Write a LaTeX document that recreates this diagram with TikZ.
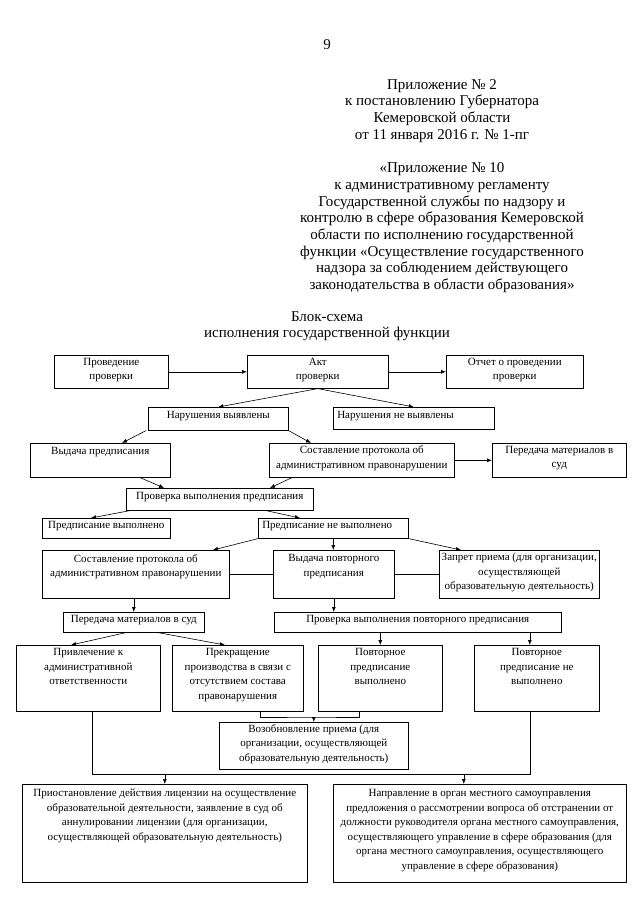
\documentclass[tikz,border=0pt]{standalone}
\usepackage{fontspec}
\setmainfont{Liberation Serif}
\usetikzlibrary{arrows.meta,calc}
\newcommand\boxc[4]{\parbox[c][#2pt][t]{#1pt}{\fontsize{11}{14.5}\selectfont\vspace*{#3pt}\centering #4\par}}
\newcommand\boxl[4]{\parbox[c][#2pt][t]{#1pt}{\fontsize{11}{14.5}\selectfont\vspace*{#3pt}\raggedright\hspace*{4pt}#4\par}}
\tikzset{
  bx/.style={draw, line width=0.6pt, inner sep=0pt, anchor=north west},
  arr/.style={-{Latex[length=5pt,width=4pt]}, line width=0.6pt},
  ln/.style={line width=0.6pt},
  hdr/.style={align=center, inner sep=0pt, font=\fontsize{15}{16.7}\selectfont}
}
\begin{document}
\begin{tikzpicture}[x=1pt,y=-1pt]
\fill[white] (0,0) rectangle (640,905);
\useasboundingbox (0,0) rectangle (640,905);

\node[hdr] (pg) at (327,45) {9};
\node[hdr, anchor=north] (head) at (442,79) {Приложение № 2\\к постановлению Губернатора\\Кемеровской области\\от 11 января 2016 г. № 1-пг\\[16.7pt]«Приложение № 10\\к административному регламенту\\Государственной службы по надзору и\\контролю в сфере образования Кемеровской\\области по исполнению государственной\\функции «Осуществление государственного\\надзора за соблюдением действующего\\законодательства в области образования»};
\node[hdr, anchor=north] (title) at (327,311) {Блок-схема\\исполнения государственной функции};

\node[bx] (prov) at (54,355) {\boxc{114}{33}{2.5}{Проведение\\проверки}};
\node[bx] (akt) at (247,355) {\boxc{141}{33}{2.5}{Акт\\проверки}};
\node[bx] (otchet) at (446,355) {\boxc{137}{33}{2.5}{Отчет о проведении\\проверки}};
\node[bx] (narv) at (148,407) {\boxc{140}{23}{4}{Нарушения выявлены}};
\node[bx] (narnv) at (333,407) {\boxl{161}{22}{4}{Нарушения не выявлены}};
\node[bx] (vyd) at (30,443) {\boxc{140}{34}{4}{Выдача предписания}};
\node[bx] (sost) at (269,443) {\boxc{185}{34}{2.5}{Составление протокола об\\административном правонарушении}};
\node[bx] (pered) at (492,443) {\boxc{134}{34}{2.5}{Передача материалов в\\суд}};
\node[bx] (prov2) at (126,488) {\boxc{187}{22}{4}{Проверка выполнения предписания}};
\node[bx] (pv) at (42,518) {\boxc{128}{20}{3}{Предписание выполнено}};
\node[bx] (pnv) at (258,518) {\boxl{150}{20}{3}{Предписание не выполнено}};
\node[bx] (sost2) at (42,550) {\boxc{187}{48}{4}{Составление протокола об\\административном правонарушении}};
\node[bx] (vyd2) at (273,550) {\boxc{121}{48}{4}{Выдача повторного\\предписания}};
\node[bx] (zap) at (439,550) {\boxc{160}{48}{3}{Запрет приема (для организации,\\осуществляющей\\образовательную деятельность)}};
\node[bx] (per2) at (63,612) {\boxc{141}{20}{3}{Передача материалов в суд}};
\node[bx] (prov3) at (274,612) {\boxc{287}{20}{3}{Проверка выполнения повторного предписания}};
\node[bx] (priv) at (16,645) {\boxc{144}{66}{3}{Привлечение к\\административной\\ответственности}};
\node[bx] (prekr) at (172,645) {\boxc{131}{66}{3}{Прекращение\\производства в связи с\\отсутствием состава\\правонарушения}};
\node[bx] (pvp) at (318,645) {\boxc{124}{66}{3}{Повторное\\предписание\\выполнено}};
\node[bx] (pnvp) at (474,645) {\boxc{125}{66}{3}{Повторное\\предписание не\\выполнено}};
\node[bx] (vozob) at (219,722) {\boxc{189}{47}{2}{Возобновление приема (для\\организации, осуществляющей\\образовательную деятельность)}};
\node[bx] (bl) at (22,784) {\boxc{285}{98}{5}{Приостановление действия лицензии на осуществление\\образовательной деятельности, заявление в суд об\\аннулировании лицензии (для организации,\\осуществляющей образовательную деятельность)}};
\node[bx] (br) at (333,784) {\boxc{293}{98}{5}{Направление в орган местного самоуправления\\предложения о рассмотрении вопроса об отстранении от\\должности руководителя органа местного самоуправления,\\осуществляющего управление в сфере образования (для\\органа местного самоуправления, осуществляющего\\управление в сфере образования)}};

\draw[arr] (prov.east) -- (akt.west);
\draw[arr] (akt.east) -- (otchet.west);
\draw[arr] (akt.south) -- (narv.north);
\draw[arr] (akt.south) -- (narnv.north);
\draw[arr] ($(narv.south west)+(-2,0)$) -- ($(vyd.north west)+(92,0)$);
\draw[arr] (narv.south east) -- ($(sost.north west)+(42,0)$);
\draw[arr] (sost.east) -- (pered.west);
\draw[arr] ($(vyd.south west)+(110,0)$) -- ($(prov2.north west)+(38,0)$);
\draw[arr] ($(sost.south west)+(23,0)$) -- ($(prov2.north west)+(144,0)$);
\draw[arr] ($(prov2.south west)+(4,0)$) -- ($(pv.north west)+(49,0)$);
\draw[arr] ($(prov2.south west)+(140,0)$) -- ($(pnv.north west)+(42,0)$);
\draw[arr] (pnv.south west) -- ($(sost2.north west)+(171,0)$);
\draw[arr] (pnv.south) -- (pnv.south |- vyd2.north);
\draw[arr] (pnv.south east) -- ($(zap.north west)+(22,0)$);
\draw[ln] (sost2.east) -- (vyd2.west);
\draw[ln] (vyd2.east) -- (zap.west);
\draw[arr] (per2.north |- sost2.south) -- (per2.north);
\draw[arr] (vyd2.south) -- (vyd2.south |- prov3.north);
\draw[arr] ($(per2.south west)+(63,0)$) -- ($(priv.north west)+(55,0)$);
\draw[arr] ($(per2.south west)+(95,0)$) -- ($(prekr.north west)+(53,0)$);
\draw[arr] (pvp.north |- prov3.south) -- (pvp.north);
\coordinate (pnvin) at ($(pnvp.north)+(-7,0)$);
\draw[arr] (pnvin |- prov3.south) -- (pnvin);
\coordinate (j1) at (313,717);
\draw[ln] ($(prekr.south west)+(88,0)$) |- (j1) -| ($(pvp.south west)+(41,0)$);
\draw[arr] (vozob.north |- j1) -- (vozob.north);
\coordinate (hl) at (92,774);
\coordinate (hr) at (530,774);
\draw[ln] (priv.south -| hl) -- (hl) -- (hr) -- (hr |- pnvp.south);
\draw[arr] (bl.north |- hl) -- (bl.north);
\coordinate (brin) at ($(br.north)+(-16,0)$);
\draw[arr] (brin |- hl) -- (brin);
\end{tikzpicture}
\end{document}
